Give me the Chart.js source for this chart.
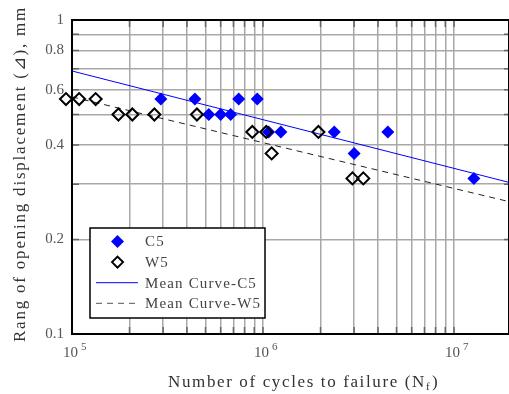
<!DOCTYPE html>
<html>
<head>
<meta charset="utf-8">
<script src="https://cdn.jsdelivr.net/npm/chart.js@4"></script>
<style>
  body { margin: 0; background: #fff; overflow: hidden; }
  canvas { display: block; }
</style>
</head>
<body>
<canvas id="snChart" width="509" height="394"></canvas>
<script>
// C5 specimens (filled diamonds)
const c5Cycles = [292000, 440000, 520000, 600000, 677000, 746000, 933000, 1070000, 1240000, 2360000, 3000000, 4500000, 12700000];
const c5Disp   = [0.56, 0.56, 0.50, 0.50, 0.50, 0.56, 0.56, 0.44, 0.44, 0.44, 0.376, 0.44, 0.313];

// W5 specimens (open diamonds)
const w5Cycles = [93000, 109000, 133000, 175000, 207000, 270000, 451000, 879000, 1040000, 1110000, 1950000, 2940000, 3350000];
const w5Disp   = [0.56, 0.56, 0.56, 0.50, 0.50, 0.50, 0.50, 0.44, 0.44, 0.376, 0.44, 0.313, 0.313];

// mean curves, given by their end points
const meanCycles = [100000, 19400000];
const meanC5 = [0.688, 0.304];
const meanW5 = [0.569, 0.264];

// axes
const xMin = 100000, xMax = 19400000;
const yMin = 0.1, yMax = 1;
const xTicks = [1e5, 2e5, 3e5, 4e5, 5e5, 6e5, 7e5, 8e5, 9e5, 1e6, 2e6, 3e6, 4e6, 5e6, 6e6, 7e6, 8e6, 9e6, 1e7];
const xLabelled = [1e5, 1e6, 1e7];
const xExponents = ['5', '6', '7'];
const yTicks = [0.1, 0.2, 0.3, 0.4, 0.5, 0.6, 0.7, 0.8, 0.9, 1];
const yLabelled = [0.1, 0.2, 0.4, 0.6, 0.8, 1];

const legendItems = ['C5', 'W5', 'Mean Curve-C5', 'Mean Curve-W5'];

const SERIF = '"Liberation Serif", "DejaVu Serif", serif';

function pts(xs, ys) {
    return xs.map((x, i) => ({ x: x, y: ys[i] }));
}

// write text stretched to a given width (the original font is set wide)
function spacedText(ctx, text, x, y, width) {
    ctx.letterSpacing = '0px';
    const w = ctx.measureText(text).width;
    const s = Math.max(0, (width - w) / text.length);
    ctx.letterSpacing = s + 'px';
    ctx.fillText(text, x, y);
    ctx.letterSpacing = '0px';
    return s;
}

function diamond(ctx, x, y, r) {
    ctx.beginPath();
    ctx.moveTo(x - r, y);
    ctx.lineTo(x, y - r);
    ctx.lineTo(x + r, y);
    ctx.lineTo(x, y + r);
    ctx.closePath();
}

// box round the plot, with short dark ticks on the inside
const frame = {
    id: 'frame',
    beforeDatasetsDraw(chart) {
        const { ctx, chartArea: a, scales } = chart;
        ctx.save();
        ctx.strokeStyle = '#666';
        ctx.lineWidth = 1.5;
        ctx.beginPath();
        xTicks.forEach(v => {
            const px = scales.x.getPixelForValue(v);
            ctx.moveTo(px, a.bottom); ctx.lineTo(px, a.bottom - 7);
            ctx.moveTo(px, a.top); ctx.lineTo(px, a.top + 7);
        });
        yTicks.forEach(v => {
            const py = scales.y.getPixelForValue(v);
            ctx.moveTo(a.left, py); ctx.lineTo(a.left + 7, py);
            ctx.moveTo(a.right, py); ctx.lineTo(a.right - 5, py);
        });
        ctx.stroke();
        ctx.strokeStyle = '#000';
        ctx.lineWidth = 2;
        ctx.strokeRect(a.left, a.top, a.right - a.left, a.bottom - a.top);
        ctx.restore();
    }
};

// x tick labels as powers of ten, axis titles, legend
const decorations = {
    id: 'decorations',
    afterDraw(chart) {
        const { ctx, chartArea: a, scales } = chart;
        ctx.save();

        // 10^n labels
        ctx.fillStyle = '#555';
        ctx.textBaseline = 'alphabetic';
        ctx.textAlign = 'left';
        xLabelled.forEach((v, i) => {
            const px = scales.x.getPixelForValue(v);
            ctx.font = '15px ' + SERIF;
            ctx.fillText('10', px - 9, a.bottom + 23);
            ctx.font = '11px ' + SERIF;
            ctx.fillText(xExponents[i], px + 9, a.bottom + 16);
        });

        // x title with subscript f
        ctx.fillStyle = '#333';
        ctx.font = '17px ' + SERIF;
        const xt = 'Number of cycles to failure (N';
        const s = spacedText(ctx, xt, 168, 387, 258);
        ctx.letterSpacing = s + 'px';
        const w1 = ctx.measureText(xt).width;
        ctx.letterSpacing = '0px';
        ctx.font = '11px ' + SERIF;
        ctx.fillText('f', 168 + w1, 390);
        ctx.font = '17px ' + SERIF;
        ctx.fillText(')', 168 + w1 + 6, 387);

        // y title
        ctx.translate(25, 174);
        ctx.rotate(-Math.PI / 2);
        ctx.textAlign = 'left';
        ctx.font = '17px ' + SERIF;
        spacedText(ctx, 'Rang of opening displacement (\u22BF), mm', -168, 0, 336);
        ctx.setTransform(1, 0, 0, 1, 0, 0);

        // legend
        const lx = 90, ly = 228, lw = 175, lh = 90;
        ctx.fillStyle = '#fff';
        ctx.fillRect(lx, ly, lw, lh);
        ctx.strokeStyle = '#000';
        ctx.lineWidth = 1.5;
        ctx.strokeRect(lx, ly, lw, lh);

        const rowY = i => ly + 13.5 + i * 20.6;
        const ds = chart.data.datasets;
        const c5 = ds.find(d => d.label === 'C5');
        const w5 = ds.find(d => d.label === 'W5');
        const mc5 = ds.find(d => d.label === 'Mean Curve-C5');
        const mw5 = ds.find(d => d.label === 'Mean Curve-W5');

        diamond(ctx, lx + 27.5, rowY(0), 6.5);
        ctx.fillStyle = c5.backgroundColor;
        ctx.fill();

        diamond(ctx, lx + 27.5, rowY(1), 5.5);
        ctx.strokeStyle = w5.borderColor;
        ctx.lineWidth = 2;
        ctx.stroke();

        ctx.lineWidth = 1;
        ctx.strokeStyle = mc5.borderColor;
        ctx.beginPath();
        ctx.moveTo(lx + 6, rowY(2)); ctx.lineTo(lx + 48, rowY(2));
        ctx.stroke();

        ctx.strokeStyle = '#555';
        ctx.setLineDash(mw5.borderDash);
        ctx.beginPath();
        ctx.moveTo(lx + 6, rowY(3)); ctx.lineTo(lx + 48, rowY(3));
        ctx.stroke();
        ctx.setLineDash([]);

        ctx.fillStyle = '#444';
        ctx.font = '15px ' + SERIF;
        ctx.textBaseline = 'middle';
        ctx.letterSpacing = '0px';
        const lw0 = ctx.measureText(legendItems[2]).width;
        const sp = Math.max(0, (112 - lw0) / legendItems[2].length);
        ctx.letterSpacing = sp + 'px';
        legendItems.forEach((t, i) => ctx.fillText(t, lx + 55, rowY(i) + 1));
        ctx.letterSpacing = '0px';

        ctx.restore();
    }
};

const gridStyle = { color: '#a8a8a8', lineWidth: 1.5, drawTicks: false };

// keep the plot box exactly where the original has it
function noEdgePadding(s) {
    s.paddingLeft = 0;
    s.paddingRight = 0;
    s.paddingTop = 0;
    s.paddingBottom = 0;
}

new Chart(document.getElementById('snChart'), {
    type: 'scatter',
    data: {
        datasets: [
            {
                label: 'W5',
                data: pts(w5Cycles, w5Disp),
                pointStyle: 'rectRot',
                pointRadius: 6,
                borderColor: '#000',
                borderWidth: 2,
                backgroundColor: 'rgba(0,0,0,0)',
                clip: false,
                order: 0
            },
            {
                label: 'C5',
                data: pts(c5Cycles, c5Disp),
                pointStyle: 'rectRot',
                pointRadius: 6.5,
                borderWidth: 0,
                borderColor: '#0000ff',
                backgroundColor: '#0000ff',
                clip: false,
                order: 1
            },
            {
                label: 'Mean Curve-C5',
                type: 'line',
                data: pts(meanCycles, meanC5),
                borderColor: '#0000ff',
                borderWidth: 1,
                pointRadius: 0,
                order: 2
            },
            {
                label: 'Mean Curve-W5',
                type: 'line',
                data: pts(meanCycles, meanW5),
                borderColor: '#222',
                borderWidth: 1,
                borderDash: [6, 5],
                pointRadius: 0,
                order: 3
            }
        ]
    },
    options: {
        responsive: false,
        animation: false,
        layout: { autoPadding: false, padding: { top: 20, right: 0, left: 0, bottom: 0 } },
        plugins: { legend: { display: false }, tooltip: { enabled: false } },
        scales: {
            x: {
                type: 'logarithmic',
                min: xMin,
                max: xMax,
                afterBuildTicks: s => { s.ticks = xTicks.map(v => ({ value: v })); },
                afterFit: s => { s.height = 60; noEdgePadding(s); },
                ticks: { display: false },
                grid: gridStyle,
                border: { display: false }
            },
            y: {
                type: 'logarithmic',
                min: yMin,
                max: yMax,
                afterBuildTicks: s => { s.ticks = yTicks.map(v => ({ value: v })); },
                afterFit: s => { s.width = 72; noEdgePadding(s); },
                ticks: {
                    autoSkip: false,
                    padding: 8,
                    color: '#555',
                    font: { family: SERIF, size: 15 },
                    callback: v => yLabelled.includes(v) ? String(v) : ''
                },
                grid: gridStyle,
                border: { display: false }
            }
        }
    },
    plugins: [frame, decorations]
});
</script>
</body>
</html>
